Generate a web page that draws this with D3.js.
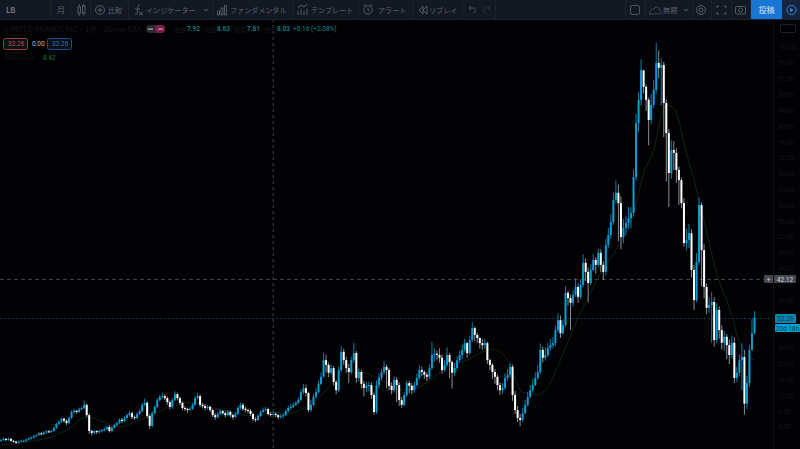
<!DOCTYPE html>
<html lang="ja">
<head>
<meta charset="UTF-8">
<title>LB</title>
<script src="https://d3js.org/d3.v7.min.js"></script>
<style>
  html, body { margin: 0; padding: 0; background: #020205; overflow: hidden; }
  svg { display: block; font-family: "Noto Sans CJK JP", "Noto Sans", sans-serif; }
</style>
</head>
<body>
<div id="chart"></div>
<script>
// monthly bars
const opens = [1.3,1.4,1.7,1.4,1.7,1.2,1.0,0.7,1.0,1.2,
  1.2,1.5,1.8,2.0,2.4,2.6,3.1,2.9,3.3,3.6,
  3.5,3.7,4.5,5.5,6.0,6.8,6.3,5.7,7.0,8.5,
  8.8,8.5,9.2,9.5,10.3,7.7,3.7,3.2,3.7,3.4,
  3.7,3.9,4.2,4.7,3.7,4.5,5.2,5.7,6.5,6.2,
  7.0,7.7,8.2,7.2,7.0,8.0,8.7,10.3,10.8,7.5,
  5.0,8.2,9.8,11.5,12.3,12.5,12.0,11.0,9.8,11.5,
  13.0,12.0,10.8,9.5,9.3,9.0,9.3,10.3,12.0,12.5,
  10.3,10.0,9.5,9.8,9.0,7.7,7.2,8.0,8.7,8.2,
  7.7,8.5,7.7,7.2,8.0,9.5,10.3,9.3,9.0,8.8,
  8.0,6.7,6.5,7.5,8.5,9.0,9.2,8.0,7.92,8.03,
  7.7,7.2,7.5,7.7,8.7,9.5,9.8,10.3,10.8,11.5,
  13.5,14.5,13.3,9.0,10.3,12.3,13.5,15.6,17.4,21.6,
  20.4,18.4,19.6,16.1,14.0,19.1,23.7,21.6,19.6,18.6,
  21.6,23.4,17.1,18.6,15.6,14.6,15.1,15.3,12.8,8.5,
  15.3,17.1,18.6,19.9,19.1,15.1,14.0,16.6,15.3,11.5,
  10.3,12.8,15.8,15.1,14.0,15.3,17.1,19.1,18.6,17.9,
  17.4,19.6,22.9,23.2,22.9,22.2,19.1,20.4,22.9,21.1,
  18.4,19.6,21.6,22.9,24.2,25.9,23.4,26.7,29.7,28.0,
  27.2,25.9,25.4,25.9,21.6,20.4,18.6,17.4,15.3,14.0,
  14.6,17.1,17.9,19.9,12.8,9.0,7.0,6.5,8.2,10.3,
  12.3,14.0,15.3,17.1,18.6,24.2,22.2,22.9,24.7,25.4,
  25.9,29.2,31.7,28.4,30.5,38.6,37.3,36.1,38.1,40.1,
  37.6,40.6,46.2,43.9,41.1,44.4,46.9,45.7,48.7,45.7,
  43.9,50.7,53.2,56.5,62.1,63.9,61.3,52.7,55.0,56.3,
  57.5,58.8,67.9,81.5,87.4,94.9,90.7,87.4,82.3,86.1,
  89.9,96.7,95.5,96.2,86.6,79.0,68.9,74.7,74.0,69.7,
  67.1,61.3,51.2,52.0,53.7,44.4,36.8,46.4,60.8,49.4,
  40.1,34.8,35.5,36.3,26.7,34.3,29.2,26.0,27.5,25.4,
  22.9,26.0,17.1,18.4,21.6,22.4,10.6,15.8,24.2,28.4];
const highs = [1.7,2.0,1.9,2.0,1.9,1.4,1.2,1.3,1.5,1.5,
  1.8,2.1,2.3,2.7,2.9,3.4,3.4,3.6,3.9,3.9,
  4.0,4.8,5.8,6.4,7.1,7.1,6.6,7.4,8.9,9.3,
  9.0,9.6,9.9,11.4,10.6,8.2,4.0,4.0,3.9,4.1,
  4.2,4.6,5.1,5.2,4.9,5.6,6.1,6.9,7.0,7.4,
  8.1,8.7,8.6,7.6,8.4,9.2,10.8,11.9,11.2,7.9,
  8.7,10.2,12.0,12.9,13.4,13.0,12.4,11.4,12.0,13.7,
  13.4,12.4,11.2,10.0,9.6,9.8,10.8,12.5,13.3,12.9,
  10.8,10.5,10.3,10.1,9.3,8.2,8.5,9.2,9.0,8.6,
  9.0,8.9,8.1,8.5,10.0,10.9,10.8,9.9,9.4,9.2,
  8.4,7.2,7.9,8.9,9.6,9.8,9.6,8.5,8.63,8.4,
  8.0,8.0,8.2,9.2,10.0,10.5,10.9,11.3,12.2,14.2,
  15.6,15.4,13.6,11.5,13.0,14.6,16.5,18.5,23.4,23.0,
  21.0,20.5,20.1,16.5,20.0,25.2,24.5,22.4,20.6,22.5,
  26.0,23.9,19.5,19.2,16.4,16.1,16.2,15.9,13.4,16.5,
  18.2,19.4,21.4,20.5,19.6,16.0,17.5,17.3,16.0,12.3,
  13.5,16.5,16.4,15.8,16.2,18.2,20.3,20.0,19.0,18.5,
  20.5,26.2,24.6,24.0,24.6,23.0,21.6,24.8,23.4,21.5,
  20.8,22.6,24.0,25.5,27.0,26.2,27.8,31.2,30.1,28.5,
  27.4,27.0,27.0,26.3,22.0,20.9,19.4,18.0,16.0,15.8,
  18.3,19.4,20.9,20.5,13.8,10.0,8.0,9.6,11.5,13.6,
  15.3,16.8,18.5,20.4,25.8,25.0,24.9,26.0,27.0,27.4,
  30.3,33.4,32.9,31.8,40.3,39.2,38.2,39.3,42.3,41.0,
  42.0,48.4,47.3,45.0,45.8,48.5,47.6,49.8,49.6,46.6,
  52.3,55.0,58.5,64.0,67.0,66.0,63.0,57.3,58.0,60.4,
  60.3,69.8,83.9,89.4,97.7,94.0,91.3,88.0,88.9,92.4,
  101.8,99.9,97.9,97.0,87.5,80.0,77.2,77.0,75.2,70.5,
  67.8,62.5,54.8,56.0,54.7,45.6,48.7,62.7,61.5,50.9,
  41.0,37.5,38.9,37.5,36.0,35.2,30.4,29.0,28.2,26.8,
  27.8,27.4,19.9,23.0,25.9,24.2,17.6,25.5,32.0,34.0];
const lows = [1.0,1.2,1.1,1.2,1.0,0.7,0.4,0.6,0.9,0.9,
  1.0,1.3,1.6,1.8,2.2,2.6,2.6,2.7,3.0,3.2,
  3.2,3.5,4.2,5.2,5.7,5.8,5.2,5.4,6.7,8.1,
  8.1,8.2,8.9,9.2,7.2,3.0,2.6,2.8,2.9,3.0,
  3.3,3.6,3.9,3.3,3.4,4.3,4.9,5.4,5.7,5.9,
  6.7,7.3,6.7,6.5,6.7,7.7,8.4,9.9,7.0,4.2,
  4.7,7.9,9.5,11.2,11.9,11.5,10.3,9.2,9.3,11.2,
  11.4,10.2,9.0,8.7,8.3,8.7,9.0,10.0,11.7,9.7,
  9.4,8.9,9.1,8.4,7.2,6.5,6.9,7.7,7.7,7.1,
  7.4,7.1,6.6,7.0,7.7,9.1,8.8,8.4,8.2,7.5,
  6.1,5.9,6.3,7.3,8.3,8.6,7.6,7.3,7.81,7.2,
  6.6,6.8,7.0,7.5,8.4,9.1,9.5,10.0,10.5,11.3,
  13.0,12.4,8.4,8.5,9.9,11.9,13.2,15.3,17.2,18.5,
  17.3,17.9,15.2,13.0,13.5,18.6,20.4,18.4,15.8,18.0,
  20.9,15.9,16.2,14.5,12.4,13.5,13.7,11.8,7.8,8.0,
  14.5,16.5,17.9,14.5,14.0,13.0,13.4,11.0,10.0,9.5,
  9.9,12.3,13.3,13.0,13.3,15.0,16.6,17.6,16.9,16.3,
  16.8,19.1,21.2,21.5,20.9,18.2,18.7,20.0,17.0,14.4,
  17.6,19.0,21.1,21.9,23.6,22.2,23.0,26.2,26.5,25.9,
  24.5,24.2,24.4,20.6,19.1,16.8,15.6,14.0,12.8,13.1,
  14.1,16.4,17.2,11.3,8.0,5.9,4.9,6.0,7.9,9.9,
  11.9,13.4,15.0,16.6,18.0,21.0,21.5,22.4,24.0,24.5,
  25.1,28.6,27.2,28.0,30.0,35.4,29.2,35.1,37.6,36.1,
  37.0,40.0,41.6,36.2,40.6,44.0,43.5,45.2,43.8,41.8,
  43.0,49.9,52.3,55.8,61.2,51.7,49.6,51.2,53.2,54.8,
  54.9,57.9,67.0,79.2,86.0,89.0,84.6,75.9,81.2,85.3,
  88.9,92.8,86.0,78.0,66.8,60.3,67.4,69.6,66.4,60.8,
  60.0,50.3,49.3,50.0,42.5,34.3,36.2,45.7,40.3,37.2,
  33.3,33.6,26.0,25.0,25.8,27.0,24.3,24.0,21.9,20.6,
  21.9,15.8,16.0,17.5,14.0,7.8,9.2,14.8,24.0,28.1];
const closes = [1.4,1.7,1.4,1.7,1.2,1.0,0.7,1.0,1.2,1.2,
  1.5,1.8,2.0,2.4,2.6,3.1,2.9,3.3,3.6,3.5,
  3.7,4.5,5.5,6.0,6.8,6.3,5.7,7.0,8.5,8.8,
  8.5,9.2,9.5,10.3,7.7,3.7,3.2,3.7,3.4,3.7,
  3.9,4.2,4.7,3.7,4.5,5.2,5.7,6.5,6.2,7.0,
  7.7,8.2,7.2,7.0,8.0,8.7,10.3,10.8,7.5,5.0,
  8.2,9.8,11.5,12.3,12.5,12.0,11.0,9.8,11.5,13.0,
  12.0,10.8,9.5,9.3,9.0,9.3,10.3,12.0,12.5,10.3,
  10.0,9.5,9.8,9.0,7.7,7.2,8.0,8.7,8.2,7.7,
  8.5,7.7,7.2,8.0,9.5,10.3,9.3,9.0,8.8,8.0,
  6.7,6.5,7.5,8.5,9.0,9.2,8.0,7.87,8.03,7.7,
  7.2,7.5,7.7,8.7,9.5,9.8,10.3,10.8,11.5,13.5,
  14.5,13.3,9.0,10.3,12.3,13.5,15.6,17.4,21.6,20.4,
  18.4,19.6,16.1,14.0,19.1,23.7,21.6,19.6,18.6,21.6,
  23.4,17.1,18.6,15.6,14.6,15.1,15.3,12.8,8.5,15.3,
  17.1,18.6,19.9,19.1,15.1,14.0,16.6,15.3,11.5,10.3,
  12.8,15.8,15.1,14.0,15.3,17.1,19.1,18.6,17.9,17.4,
  19.6,22.9,23.2,22.9,22.2,19.1,20.4,22.9,21.1,18.4,
  19.6,21.6,22.9,24.2,25.9,23.4,26.7,29.7,28.0,27.2,
  25.9,25.4,25.9,21.6,20.4,18.6,17.4,15.3,14.0,14.6,
  17.1,17.9,19.9,12.8,9.0,7.0,6.5,8.2,10.3,12.3,
  14.0,15.3,17.1,18.6,24.2,22.2,22.9,24.7,25.4,25.9,
  29.2,31.7,28.4,30.5,38.6,37.3,36.1,38.1,40.1,37.6,
  40.6,46.2,43.9,41.1,44.4,46.9,45.7,48.7,45.7,43.9,
  50.7,53.2,56.5,62.1,63.9,61.3,52.7,55.0,56.3,57.5,
  58.8,67.9,81.5,87.4,94.9,90.7,87.4,82.3,86.1,89.9,
  96.7,95.5,96.2,86.6,79.0,68.9,74.7,74.0,69.7,67.1,
  61.3,51.2,52.0,53.7,44.4,36.8,46.4,60.8,49.4,40.1,
  34.8,35.5,36.3,26.7,34.3,29.2,26.0,27.5,25.4,22.9,
  26.0,17.1,18.4,21.6,22.4,10.6,15.8,24.2,28.4,32.26];

// moving average, sampled at these bars
const maBars = [0,8,17,22,28,33,36,40,47,52,58,64,70,78,84,92,100,108,115,120,125,132,137,144,152,160,166,172,177,185,191,195,201,207,213,217,222,229,237,245,251,255,259,262,264,267,272,277,281,284,289,293,297,299];
const maValues = [0.2,0.7,1.7,2.7,4.7,7.0,7.0,6.2,4.7,5.7,7.2,9.0,10.8,10.8,9.5,8.5,7.5,8.42,8.2,9.5,11.5,16.1,18.6,18.4,16.1,14.0,14.8,17.4,19.9,21.6,23.7,24.4,21.6,13.5,12.8,14.8,21.6,32.3,42.4,50.5,58.6,68.9,74.7,83.1,86.1,85.3,74.0,62.1,51.2,43.6,34.8,26.2,22.2,21.6];

// 32 and 28 sit under the price boxes
const priceTicks = [100,96,92,88,84,80,76,72,68,64,60,56,52,48,44,40,36,24,20,16,12,8,4];
const lastPrice = 32.26;
const crossPrice = 42.12;
const crossBar = 108;

const toolLabels = ["比較","インジケーター","ファンダメンタル","テンプレート","アラート","リプレイ"];
const toolLabelX = [108,146,230,311,378,429];
const separators = [50,70,90,128,212,292,358,412,462,495,625,645,692,711,731,750];
const ohlcNames = ["始値","高値","安値","終値"];
const ohlcValues = ["7.92","8.63","7.81","8.03"];
const ohlcX = [187,217,247,277];

const W = 800, H = 449, axisX = 773;
const bars = closes.map((c, i) => ({i, o: opens[i], h: highs[i], l: lows[i], c}));

const svg = d3.select("#chart").append("svg").attr("width", W).attr("height", H);
svg.append("rect").attr("width", W).attr("height", H).attr("fill", "#020205");

const x = d3.scaleLinear().domain([0, 299]).range([1, 754.5]);
const y = d3.scaleLinear().domain([0, 100]).range([445.6, 50]);

// right price axis, nearly invisible in the reference
svg.append("line").attr("x1", axisX + .5).attr("x2", axisX + .5).attr("y1", 19).attr("y2", H).attr("stroke", "#0c0d14");
const axis = svg.append("g").attr("transform", `translate(${axisX},-3)`)
  .call(d3.axisRight(y).tickValues(priceTicks).tickSize(2).tickFormat(d3.format(".2f")));
axis.select(".domain").remove();
axis.selectAll("line").attr("stroke", "#0f1017");
axis.selectAll("text").attr("fill", "#121319").attr("font-size", 6.5).attr("font-family", "Roboto");
svg.append("rect").attr("x", 780.5).attr("y", 24.5).attr("width", 15).attr("height", 8).attr("rx", 1.5)
  .attr("fill", "none").attr("stroke", "#1c1e24");

// crosshair + last price line
const dashed = (x1, y1, x2, y2, color, dash) => svg.append("line")
  .attr("x1", x1).attr("y1", y1).attr("x2", x2).attr("y2", y2)
  .attr("stroke", color).attr("stroke-dasharray", dash);
dashed(x(crossBar), 19, x(crossBar), H, "#3e4046", "3,3");
dashed(0, Math.round(y(crossPrice)) + .5, axisX, Math.round(y(crossPrice)) + .5, "#3e4046", "4,3");
dashed(0, Math.round(y(lastPrice)) + .5, axisX, Math.round(y(lastPrice)) + .5, "#0a3d4c", "2,2");

// moving average
svg.append("path")
  .attr("d", d3.line().x((d, i) => x(maBars[i])).y(d => y(d)).curve(d3.curveMonotoneX)(maValues))
  .attr("fill", "none").attr("stroke", "#10241a").attr("stroke-width", 1);

// candles
const color = d => d.c >= d.o ? "#0a9fd4" : "#ffffff";
const g = svg.append("g");
g.selectAll(".wick").data(bars).join("line").attr("class", "wick")
  .attr("x1", d => x(d.i)).attr("x2", d => x(d.i))
  .attr("y1", d => y(d.h)).attr("y2", d => y(d.l))
  .attr("stroke", d => d.c >= d.o ? "#0a7ea8" : "#8a8c90");
g.selectAll(".body").data(bars).join("rect").attr("class", "body")
  .attr("x", d => x(d.i) - 1).attr("width", 2)
  .attr("y", d => y(Math.max(d.o, d.c)))
  .attr("height", d => Math.max(1, Math.abs(y(d.o) - y(d.c))))
  .attr("fill", color);

// price labels on the axis
const label = (x0, y0, w, h, fill, txt, tc, fs) => {
  svg.append("rect").attr("x", x0).attr("y", y0).attr("width", w).attr("height", h).attr("rx", 1).attr("fill", fill);
  svg.append("text").attr("x", x0 + w / 2).attr("y", y0 + h / 2 + 2.5).attr("text-anchor", "middle")
    .attr("font-size", fs).attr("font-family", "Roboto").attr("fill", tc).text(txt);
};
label(764, 275, 9, 8, "#45474f", "+", "#c8c9cc", 8);
label(774, 275, 22, 8, "#45474f", d3.format(".2f")(crossPrice), "#d8d8da", 6.5);
label(775, 314, 21, 9, "#0a85ad", d3.format(".2f")(lastPrice), "#06384a", 6.5);
label(775, 324, 25, 8, "#04a0d2", "20d 18h", "#063a4c", 6.5);

// toolbar
svg.append("rect").attr("width", W).attr("height", 19).attr("fill", "#141823");
svg.append("line").attr("x1", 0).attr("x2", W).attr("y1", 19.5).attr("y2", 19.5).attr("stroke", "#1c202b");
svg.selectAll(".sep").data(separators).join("line").attr("class", "sep")
  .attr("x1", d => d + .5).attr("x2", d => d + .5).attr("y1", 0).attr("y2", 19).attr("stroke", "#1e222d");
const toolText = (tx, ty, t, fs, fill) => svg.append("text").attr("x", tx).attr("y", ty)
  .attr("font-size", fs).attr("fill", fill).text(t);
const gray = "#5c606b";
toolText(6, 13, "LB", 7.5, "#70747f").attr("font-weight", 700);
toolText(57, 13, "月", 8, gray);
toolLabels.forEach((t, i) => toolText(toolLabelX[i], 12.5, t, 7.1, gray));
toolText(663, 12.5, "無題", 7.2, gray);

// small toolbar icons
const ic = svg.append("g").attr("fill", "none").attr("stroke", gray).attr("stroke-width", .9);
ic.append("rect").attr("x", 78).attr("y", 7).attr("width", 2.5).attr("height", 6);
ic.append("rect").attr("x", 82.5).attr("y", 6).attr("width", 2.5).attr("height", 7);
ic.append("path").attr("d", "M79.2 4V7M79.2 13V16M83.7 3.5V6M83.7 13V15.5");
ic.append("circle").attr("cx", 100).attr("cy", 10).attr("r", 4.5);
ic.append("path").attr("d", "M97.5 10H102.5M100 7.5V12.5");
ic.append("path").attr("d", "M140 5C137 5 138 9 137.5 12C137 15 136 14 135 14M135 9H140M139 12L143 15M143 12L139 15");
ic.append("path").attr("d", "M204 9L206 11L208 9");
ic.append("path").attr("d", "M217.5 15V11H219.5V15ZM221 15V8H223V15ZM224.5 15V5.5H226.5V15Z");
ic.append("path").attr("d", "M298 15V11M301 15V9M304 15V11M307 15V9M298 8L301 5L304 7L307 4");
ic.append("circle").attr("cx", 368).attr("cy", 10).attr("r", 4.2);
ic.append("path").attr("d", "M368 7.5V10L370 11.5M363.5 6L366 4M372.5 6L370 4");
ic.append("path").attr("d", "M423 6L419 10L423 14ZM427 6L423 10L427 14Z");
ic.append("path").attr("d", "M469 8H474C476 8 476 13 473 13M469 8L471 6M469 8L471 10").attr("opacity", .8);
ic.append("path").attr("d", "M490 8H485C483 8 483 13 486 13M490 8L488 6M490 8L488 10").attr("opacity", .35);
ic.append("rect").attr("x", 630.5).attr("y", 5.5).attr("width", 9).attr("height", 9).attr("rx", 2);
ic.append("path").attr("d", "M650 14H660C662 14 662 11 660 10.5C660 7 655 6 654 9C650 8.5 648 14 650 14Z").attr("stroke-dasharray", "1.5,1");
ic.append("path").attr("d", "M684 9L686 11L688 9");
ic.append("circle").attr("cx", 701).attr("cy", 10).attr("r", 2);
ic.append("circle").attr("cx", 701).attr("cy", 10).attr("r", 4.4);
ic.append("path").attr("d", "M717 8V6H719M724 6H726V8M717 12V14H719M724 14H726V12");
ic.append("rect").attr("x", 735.5).attr("y", 6.5).attr("width", 10).attr("height", 7.5).attr("rx", 1);
ic.append("circle").attr("cx", 740.5).attr("cy", 10).attr("r", 2);

svg.append("rect").attr("x", 751).attr("width", 31).attr("height", 19).attr("fill", "#1976d2");
svg.append("text").attr("x", 766.5).attr("y", 13).attr("text-anchor", "middle").attr("font-size", 8).attr("fill", "#cfe2f6").text("投稿");
svg.append("rect").attr("x", 782).attr("width", 18).attr("height", 19).attr("fill", "#16233c");
svg.append("circle").attr("cx", 791.5).attr("cy", 10).attr("r", 4.6).attr("fill", "none").attr("stroke", "#2d86dc");
svg.append("path").attr("d", "M790 7.8L793.6 10L790 12.2Z").attr("fill", "#2d86dc");

// legend rows
toolText(5, 32, "LIMITED BRANDS INC · 1月 · 26mm BZA", 7.4, "#15171d");
svg.append("rect").attr("x", 146).attr("y", 25).attr("width", 19).attr("height", 8).attr("rx", 4).attr("fill", "#2a2b30");
svg.append("rect").attr("x", 155).attr("y", 25).attr("width", 10).attr("height", 8).attr("rx", 4).attr("fill", "#7a1f45");
svg.append("rect").attr("x", 148).attr("y", 28.5).attr("width", 5).attr("height", 1.2).attr("fill", "#b0b0b4");
svg.append("rect").attr("x", 158).attr("y", 28.5).attr("width", 5).attr("height", 1.2).attr("fill", "#e08cae");
ohlcNames.forEach((n, i) => {
  toolText(ohlcX[i] - 12.5, 32, n, 6, "#15171d");
  toolText(ohlcX[i], 31, ohlcValues[i], 6.5, "#0a8b86").attr("font-family", "Roboto").attr("font-weight", 500);
});
toolText(293, 31, "+0.16 (+2.08%)", 6.5, "#0a8b86").attr("font-family", "Roboto");

const box = (bx, c) => svg.append("rect").attr("x", bx + .5).attr("y", 38.5).attr("width", 24).attr("height", 11).attr("rx", 2)
  .attr("fill", "#0e1016").attr("stroke", c);
box(3, "#8f4347");
box(47, "#1f4f8a");
toolText(8, 46, "32.26", 6.5, "#b8504f").attr("font-family", "Roboto");
toolText(32, 46, "0.00", 6.5, "#b8b9bc").attr("font-family", "Roboto");
toolText(52, 46, "32.26", 6.5, "#2f6fc0").attr("font-family", "Roboto");
toolText(5, 60, "MA 10 close", 5.5, "#121419");
toolText(43, 60, "8.42", 6.5, "#22782f").attr("font-family", "Roboto");
</script>
</body>
</html>
